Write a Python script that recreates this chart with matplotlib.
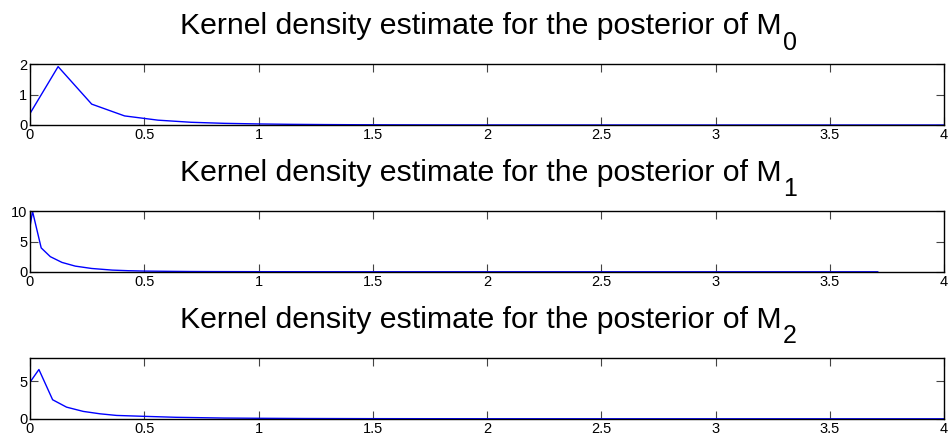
import numpy as np
import matplotlib
matplotlib.use("Agg")
import matplotlib.pyplot as plt

plt.rcParams['font.family'] = ['Liberation Sans', 'DejaVu Sans']

# posterior densities
x_m0 = [0.0, 0.123, 0.27, 0.414, 0.56, 0.705, 0.85, 1.0, 1.14, 1.29, 1.43, 1.58, 1.72, 2.0, 2.5, 3.0, 3.5, 4.0]
y_m0 = [0.38, 1.93, 0.69, 0.30, 0.16, 0.09, 0.055, 0.035, 0.022, 0.014, 0.009, 0.006, 0.004, 0.002, 0.001, 0.0, 0.0, 0.0]

x_m1 = [0.0, 0.011, 0.049, 0.089, 0.14, 0.198, 0.27, 0.36, 0.43, 0.5, 0.6, 0.7, 0.8, 1.0, 1.2, 1.5, 2.0, 2.5, 3.0, 3.71]
y_m1 = [7.4, 10.0, 3.95, 2.5, 1.55, 0.94, 0.55, 0.28, 0.18, 0.12, 0.08, 0.05, 0.035, 0.02, 0.012, 0.006, 0.003, 0.001, 0.0, 0.0]

x_m2 = [0.0, 0.039, 0.099, 0.16, 0.233, 0.306, 0.379, 0.5, 0.64, 0.85, 1.0, 1.2, 1.5, 2.0, 2.5, 3.0, 4.0]
y_m2 = [4.9, 6.6, 2.55, 1.56, 0.99, 0.67, 0.45, 0.33, 0.2, 0.1, 0.07, 0.04, 0.02, 0.008, 0.003, 0.001, 0.0]

series = [(x_m0, y_m0, '0', (0, 2), [0, 1, 2]),
          (x_m1, y_m1, '1', (0, 10), [0, 5, 10]),
          (x_m2, y_m2, '2', (0, 8.1), [0, 5])]

xticks = np.arange(0, 4.01, 0.5)
xticklabels = ['0', '0.5', '1', '1.5', '2', '2.5', '3', '3.5', '4']

W, H = 952, 444
fig = plt.figure(figsize=(W / 100, H / 100), dpi=100)

tops = [64.5, 211.3, 358.3]
ax_h = 60.5
left, right = 30, 944

for (xs, ys, sub, ylim, yticks), top in zip(series, tops):
    ax = fig.add_axes([left / W, 1 - (top + ax_h) / H, (right - left) / W, ax_h / H])
    ax.plot(xs, ys, color='blue', lw=1)
    ax.set_xlim(0, 4)
    ax.set_ylim(*ylim)
    ax.set_xticks(xticks)
    ax.set_xticklabels(xticklabels)
    ax.set_yticks(yticks)
    ax.tick_params(direction='in', length=6, width=0.8, color='#444444',
                   top=True, right=True, labelsize=10.5, pad=2)
    for s in ax.spines.values():
        s.set_linewidth(1)

    # title with MATLAB-style subscript
    cx = (left + right) / 2 / W
    ty = 1 - (top - 30) / H
    t = fig.text(cx - 6 / W, ty, 'Kernel density estimate for the posterior of M',
                 ha='center', va='baseline', fontsize=21.8)
    fig.canvas.draw()
    bb = t.get_window_extent()
    fig.text(bb.x1 / W + 1 / W, ty - 15 / H, sub, ha='left', va='baseline', fontsize=18)

fig.savefig('out.png', dpi=100)
